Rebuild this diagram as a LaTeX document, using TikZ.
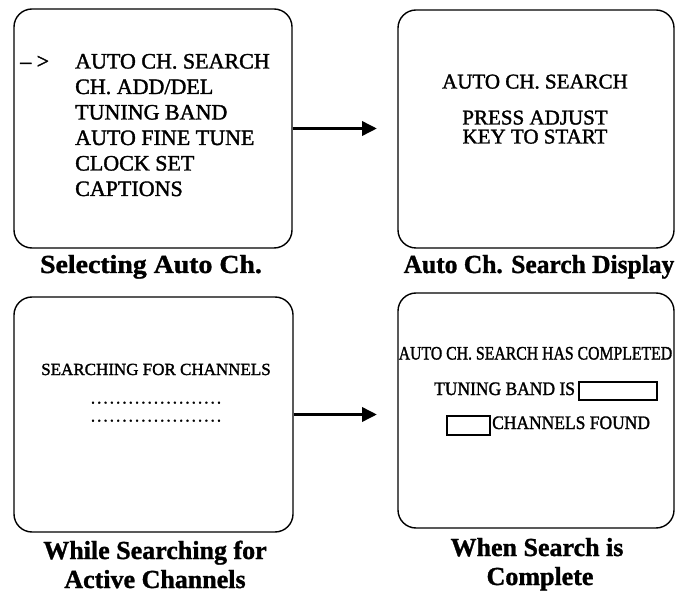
\documentclass[tikz,border=0pt]{standalone}
\usepackage{fontspec}
\setmainfont{Liberation Serif}
\newfontfamily\scanfont{Liberation Serif}[FakeBold=1.6]
\newfontfamily\capfont{Liberation Serif}[BoldFeatures={FakeBold=1.2}]
\usepackage{graphicx}
\usetikzlibrary{arrows.meta}
\newcommand{\dotrowtext}{\foreach \i in {1,...,21}{\makebox[6.3pt]{.}}}
\begin{document}
\begin{tikzpicture}[x=1pt,y=-1pt,
  screen/.style={draw, line width=1.4pt, rounded corners=18pt, inner sep=0pt},
  menu/.style={anchor=base west, inner sep=0pt, font=\scanfont\fontsize{22}{22}\selectfont},
  msg/.style={anchor=base, inner sep=0pt, font=\scanfont\fontsize{21}{21}\selectfont},
  smallmsg/.style={anchor=base, inner sep=0pt, font=\scanfont\fontsize{17}{17}\selectfont},
  dotrow/.style={anchor=base, inner sep=0pt, text height=3pt, text depth=0pt, font=\scanfont\fontsize{17}{17}\selectfont},
  donemsg/.style={inner sep=0pt, font=\scanfont\fontsize{19}{19}\selectfont},
  field/.style={draw, line width=2.2pt, inner sep=0pt},
  caption/.style={anchor=base, inner sep=0pt, text depth=0pt, font=\capfont\bfseries\fontsize{26}{26}\selectfont},
  flow/.style={line width=3.5pt, -{Triangle[length=15pt,width=14pt]}}]
\useasboundingbox (0,0) rectangle (677,593);

% screens
\node[screen, minimum width=278pt, minimum height=239pt] (s1) at (153,128.5) {};
\node[screen, minimum width=276pt, minimum height=238pt] (s2) at (536,129) {};
\node[screen, minimum width=279pt, minimum height=235pt] (s3) at (153.5,414.5) {};
\node[screen, minimum width=276pt, minimum height=235pt] (s4) at (536,410.5) {};

% screen 1: menu
\node[menu] (m0) at (20,68.5) {–\ >};
\node[menu] (m1) at (75,68.5) {AUTO CH. SEARCH};
\node[menu] (m2) at (75,94) {CH. ADD/DEL};
\node[menu] (m3) at (75,119.5) {TUNING BAND};
\node[menu] (m4) at (75,145) {AUTO FINE TUNE};
\node[menu] (m5) at (75,170.5) {CLOCK SET};
\node[menu] (m6) at (75,196) {CAPTIONS};

% screen 2
\node[msg] (t1) at (535,88.5) {AUTO CH. SEARCH};
\node[msg] (t2) at (535,124.5) {PRESS ADJUST};
\node[msg] (t3) at (535,143.5) {KEY TO START};

% screen 3
\node[smallmsg] (u1) at (156,375) {SEARCHING FOR CHANNELS};
\node[dotrow] (u2) at (156,403.5) {\dotrowtext};
\node[dotrow] (u3) at (156,421.5) {\dotrowtext};

% screen 4
\node[donemsg, anchor=base] (v1) at (535.5,359.5) {\scalebox{0.83}[1]{AUTO CH. SEARCH HAS COMPLETED}};
\node[donemsg, anchor=base west] (v2) at (434,395) {\scalebox{0.92}[1]{TUNING BAND IS}};
\node[field, minimum width=78pt, minimum height=18pt] (f1) at (618,391) {};
\node[field, minimum width=43pt, minimum height=19pt] (f2) at (468.5,425.5) {};
\node[donemsg, anchor=base west] (v3) at (492,429) {\scalebox{0.92}[1]{CHANNELS FOUND}};

% captions
\node[caption] (c1) at (151,273) {\scalebox{1.07}[1]{Selecting Auto Ch.}};
\node[caption] (c2) at (539,273) {\scalebox{0.98}[1]{Auto Ch. Search Display}};
\node[caption] (c3) at (155,559) {While Searching for};
\node[caption] (c3b) at (155,588) {Active Channels};
\node[caption] (c4) at (537,556) {When Search is};
\node[caption] (c4b) at (540,585) {Complete};

% arrows
\coordinate (e1) at (377,128.5);
\coordinate (e2) at (377,414.5);
\draw[flow] (s1.east) -- (e1);
\draw[flow] (s3.east) -- (e2);
\end{tikzpicture}
\end{document}
